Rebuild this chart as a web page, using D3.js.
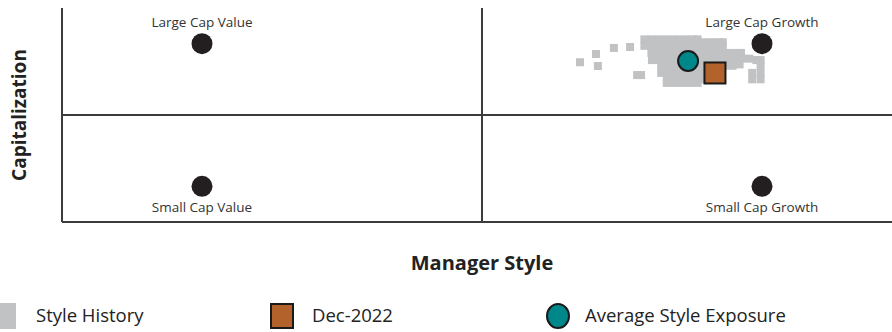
<!DOCTYPE html>
<html>
<head>
<meta charset="utf-8">
<script src="https://cdn.jsdelivr.net/npm/d3@7"></script>
<style>
  body { margin: 0; background: #fff; }
  svg { display: block; font-family: "Open Sans", sans-serif; }
</style>
</head>
<body>
<svg class="StyleMap"></svg>
<script>
// corner anchors of the style map
const anchorNames = ["Large Cap Value", "Large Cap Growth", "Small Cap Value", "Small Cap Growth"];
const anchorX = [-100, 100, -100, 100];
const anchorY = [100, 100, -100, -100];

// rolling style history points (x = value/growth, y = small/large)
const styleHistory = [
    [35, 74], [40.7, 85.5], [41.4, 68.7], [47.1, 94], [52.9, 95.3], [55.4, 56], [56.8, 56],
    [58, 106], [60.5, 106], [63, 106], [65.5, 106], [68, 106], [70.5, 106], [73, 106], [75.5, 106], [77, 106],
    [79.5, 102], [82, 102], [84.5, 102], [86, 102],
    [58, 97], [60.5, 97], [63, 97], [65.5, 97], [68, 97], [70.5, 97], [73, 97], [75.5, 97], [78, 97],
    [80.5, 97], [83, 97], [85.5, 97], [86, 97],
    [60.5, 87], [62, 87], [64, 87], [66.5, 87], [69, 87], [71.5, 87], [74, 87], [76.5, 87], [79, 87],
    [81.5, 87], [84, 87], [86.5, 87], [88.5, 87], [91, 87], [92.5, 87],
    [60.7, 77], [63, 77], [65.5, 77], [68, 77], [70.5, 77], [73, 77], [75.5, 77], [78, 77], [80.5, 77],
    [83, 77], [85.5, 77], [88, 77], [90.5, 77], [93, 79], [95.5, 79], [98, 77], [99.5, 77],
    [64, 69], [64.5, 69], [67, 69], [69.5, 69], [72, 69], [74.5, 69], [77, 69], [79.5, 69], [82, 69],
    [84.5, 69], [87, 69], [89.5, 69], [92, 71], [99.5, 69],
    [64, 59], [66, 59], [68.5, 59], [71, 59], [73.5, 59], [76, 59], [78, 59], [96.5, 59], [99.5, 59],
    [66, 50], [66.5, 50], [69, 50], [71.5, 50], [74, 50], [76.5, 50], [78, 50], [96.5, 50], [99.5, 50],
    [66, 45], [67.5, 45], [70, 45], [72.5, 45], [75, 45], [77, 45]
];

const currentStyle = [83.2, 58.9];   // Dec-2022
const averageStyle = [73.6, 75.7];   // Average Style Exposure

const legendLabels = ["Style History", "Dec-2022", "Average Style Exposure"];

const colors = {
    history: "#c1c2c4",
    current: "#b4622b",
    average: "#00878a",
    anchor: "#231f20",
    line: "#3c3c3c"
};

function makeChart() {
    const svgWidth = 892,
        svgHeight = 332;

    const canvas = d3.select(".StyleMap")
        .attr("width", svgWidth)
        .attr("height", svgHeight);

    // Scales
    const x = d3.scaleLinear()
        .domain([-150, 150])
        .range([62, 902]);

    const y = d3.scaleLinear()
        .domain([-150, 150])
        .range([222, 8]);

    // Style history squares
    const sq = 8;
    canvas.append("g")
        .selectAll("rect")
        .data(styleHistory)
        .enter().append("rect")
        .attr("x", d => x(d[0]) - sq / 2)
        .attr("y", d => y(d[1]) - sq / 2)
        .attr("width", sq)
        .attr("height", sq)
        .attr("fill", colors.history);

    // Quadrant lines
    const lines = canvas.append("g")
        .attr("stroke", colors.line)
        .attr("stroke-width", 2);
    lines.append("line")
        .attr("x1", x(-150)).attr("x2", x(-150))
        .attr("y1", y(150)).attr("y2", y(-150));
    lines.append("line")
        .attr("x1", x(0)).attr("x2", x(0))
        .attr("y1", y(150)).attr("y2", y(-150));
    lines.append("line")
        .attr("x1", x(-150)).attr("x2", x(150))
        .attr("y1", y(0)).attr("y2", y(0));
    lines.append("line")
        .attr("x1", x(-150)).attr("x2", x(150))
        .attr("y1", y(-150)).attr("y2", y(-150));

    // Anchor dots and names
    const anchors = anchorNames.map((n, i) => ({ name: n, x: anchorX[i], y: anchorY[i] }));
    canvas.append("g")
        .selectAll("circle")
        .data(anchors)
        .enter().append("circle")
        .attr("cx", d => x(d.x))
        .attr("cy", d => y(d.y))
        .attr("r", 10.5)
        .attr("fill", colors.anchor);

    canvas.append("g")
        .selectAll("text")
        .data(anchors)
        .enter().append("text")
        .attr("x", d => x(d.x))
        .attr("y", d => d.y > 0 ? y(d.y) - 17 : y(d.y) + 26)
        .attr("text-anchor", "middle")
        .style("font-size", "13.5px")
        .attr("fill", "#333")
        .text(d => d.name);

    // Average and current markers
    canvas.append("circle")
        .attr("cx", x(averageStyle[0]))
        .attr("cy", y(averageStyle[1]))
        .attr("r", 10)
        .attr("fill", colors.average)
        .attr("stroke", "#1a1a1a")
        .attr("stroke-width", 2);

    const cs = 21;
    canvas.append("rect")
        .attr("x", x(currentStyle[0]) - cs / 2)
        .attr("y", y(currentStyle[1]) - cs / 2)
        .attr("width", cs)
        .attr("height", cs)
        .attr("fill", colors.current)
        .attr("stroke", "#1a1a1a")
        .attr("stroke-width", 2);

    // Axis labels
    canvas.append("text")
        .attr("transform", "rotate(-90)")
        .attr("x", -y(0))
        .attr("y", 26)
        .attr("text-anchor", "middle")
        .style("font-size", "19px")
        .style("font-weight", "bold")
        .attr("fill", "#222")
        .text("Capitalization");

    canvas.append("text")
        .attr("x", x(0))
        .attr("y", 270)
        .attr("text-anchor", "middle")
        .style("font-size", "20px")
        .style("font-weight", "bold")
        .attr("fill", "#222")
        .text("Manager Style");

    // Legend
    const legend = canvas.append("g").attr("transform", "translate(0,316)");
    legend.append("rect")
        .attr("x", 0).attr("y", -13)
        .attr("width", 16).attr("height", 26)
        .attr("fill", colors.history);
    legend.append("rect")
        .attr("x", 271).attr("y", -12)
        .attr("width", 22).attr("height", 24)
        .attr("fill", colors.current)
        .attr("stroke", "#1a1a1a")
        .attr("stroke-width", 2);
    legend.append("ellipse")
        .attr("cx", 558).attr("cy", 0)
        .attr("rx", 11).attr("ry", 12)
        .attr("fill", colors.average)
        .attr("stroke", "#1a1a1a")
        .attr("stroke-width", 2);

    const legendX = [36, 312, 585];
    legend.selectAll("text.lg")
        .data(legendLabels)
        .enter().append("text")
        .attr("class", "lg")
        .attr("x", (d, i) => legendX[i])
        .attr("y", 6)
        .style("font-size", "18.5px")
        .attr("fill", "#222")
        .text(d => d);
}

makeChart();
</script>
</body>
</html>
